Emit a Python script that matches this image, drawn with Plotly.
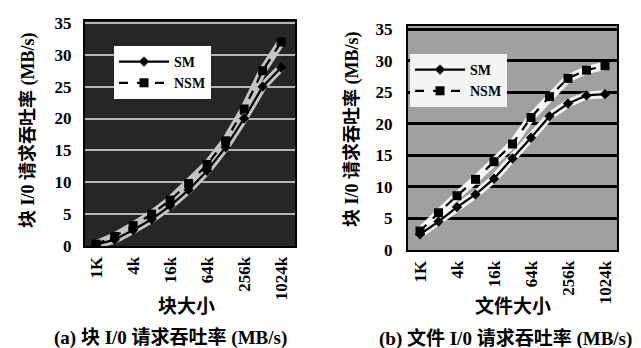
import plotly.graph_objects as go

# ---------------- data ----------------
sizes = ["1K", "2K", "4K", "8K", "16K", "32K", "64K", "128K", "256K", "512K", "1024K"]
tick_sizes = ["1K", "4K", "16K", "64K", "256K", "1024K"]
tick_labels = ["1K", "4k", "16k", "64k", "256k", "1024k"]

block_sm = [0.2, 1.0, 2.5, 4.2, 6.3, 8.8, 11.8, 15.5, 20.0, 25.0, 28.0]
block_nsm = [0.3, 1.5, 3.2, 5.0, 7.2, 9.8, 12.8, 16.5, 21.5, 27.5, 32.0]

file_sm = [2.5, 4.5, 6.8, 8.8, 11.3, 14.5, 17.8, 21.2, 23.2, 24.5, 24.7]
file_nsm = [3.0, 5.9, 8.6, 11.2, 14.0, 16.8, 21.0, 24.3, 27.2, 28.5, 29.2]

y_ticks = [0, 5, 10, 15, 20, 25, 30, 35]

W, H = 641, 348
FONT = "Liberation Serif, Noto Sans CJK SC"


def px(xp):
    return xp / W


def py(yp):
    return (H - yp) / H


fig = go.Figure()


def add_panel(xa, ya, sm, nsm, halo, legend):
    # white halo behind the lines (scan look)
    for vals in (sm, nsm):
        fig.add_trace(go.Scatter(x=sizes, y=vals, xaxis=xa, yaxis=ya, mode="lines",
                                 line=dict(color=halo, width=8), showlegend=False,
                                 hoverinfo="skip"))
    fig.add_trace(go.Scatter(x=sizes, y=sm, xaxis=xa, yaxis=ya, mode="lines+markers",
                             name="SM", legend=legend,
                             line=dict(color="black", width=2.2),
                             marker=dict(symbol="diamond", size=8, color="black")))
    fig.add_trace(go.Scatter(x=sizes, y=nsm, xaxis=xa, yaxis=ya, mode="lines+markers",
                             name="NSM", legend=legend,
                             line=dict(color="black", width=2.2, dash="dash"),
                             marker=dict(symbol="square", size=9, color="black")))


add_panel("x", "y", block_sm, block_nsm, "#c4c4c4", "legend")
add_panel("x2", "y2", file_sm, file_nsm, "#f4f4f4", "legend2")

axis_common = dict(showline=True, linecolor="black", linewidth=2, mirror=True, ticks="",
                   automargin=False)
ytick_font = dict(family=FONT, size=17, color="black", weight="bold")
xtick_font = dict(family=FONT, size=17, color="black", weight="bold")
legend_font = dict(family=FONT, size=14, color="black", weight="bold")

fig.update_layout(
    width=W, height=H,
    margin=dict(l=0, r=0, t=0, b=0, autoexpand=False),
    paper_bgcolor="white", plot_bgcolor="white",
    xaxis=dict(domain=[px(77), px(287)], anchor="y", type="category",
               range=[-0.6, 10.75], tickvals=tick_sizes, ticktext=tick_labels,
               tickangle=-90, showgrid=False, ticklabelstandoff=2, tickfont=xtick_font,
               **axis_common),
    yaxis=dict(domain=[py(238), py(13)], anchor="x", range=[0, 35.3],
               tickvals=y_ticks, showgrid=True, gridcolor="#b4b4b4", gridwidth=2,
               zeroline=False, ticklabelstandoff=8, tickfont=ytick_font, **axis_common),
    xaxis2=dict(domain=[px(400), px(609)], anchor="y2", type="category",
                range=[-0.65, 10.65], tickvals=tick_sizes, ticktext=tick_labels,
                tickangle=-90, showgrid=False, ticklabelstandoff=2, tickfont=xtick_font,
                **axis_common),
    yaxis2=dict(domain=[py(242), py(18)], anchor="x2", range=[0, 35.5],
                tickvals=y_ticks, showgrid=True, gridcolor="black", gridwidth=3,
                zeroline=False, ticklabelstandoff=10, tickfont=ytick_font, **axis_common),
    legend=dict(x=px(106), y=py(38), xanchor="left", yanchor="top",
                bgcolor="white", borderwidth=0, font=legend_font,
                tracegroupgap=0, itemwidth=50),
    legend2=dict(x=px(402), y=py(46), xanchor="left", yanchor="top",
                 bgcolor="#f4f4f4", borderwidth=0, font=legend_font,
                 tracegroupgap=0, itemwidth=50),
    showlegend=True,
)

# scanned-looking backgrounds per panel
fig.add_shape(type="rect", xref="x domain", yref="y domain", x0=0, x1=1, y0=0, y1=1,
              fillcolor="#262626", line_width=0, layer="below")
fig.add_shape(type="rect", xref="x2 domain", yref="y2 domain", x0=0, x1=1, y0=0, y1=1,
              fillcolor="#a0a0a0", line_width=0, layer="below")

texts = [
    ("块 I/0 请求吞吐率 (MB/s)", 21, 122, -90, 18),
    ("块 I/0 请求吞吐率 (MB/s)", 344, 121, -90, 18),
    ("块大小", 178, 298, 0, 19),
    ("文件大小", 505, 298, 0, 19),
    ("(a) 块 I/0 请求吞吐率 (MB/s)", 162, 330, 0, 19),
    ("(b) 文件 I/0 请求吞吐率 (MB/s)", 497, 330, 0, 19),
]
for t, x, y, ang, sz in texts:
    fig.add_annotation(text=t, x=px(x), y=py(y), xref="paper", yref="paper",
                       showarrow=False, textangle=ang, xanchor="center", yanchor="middle",
                       font=dict(family=FONT, size=sz, color="black", weight="bold"))

fig.write_html("out.html")
